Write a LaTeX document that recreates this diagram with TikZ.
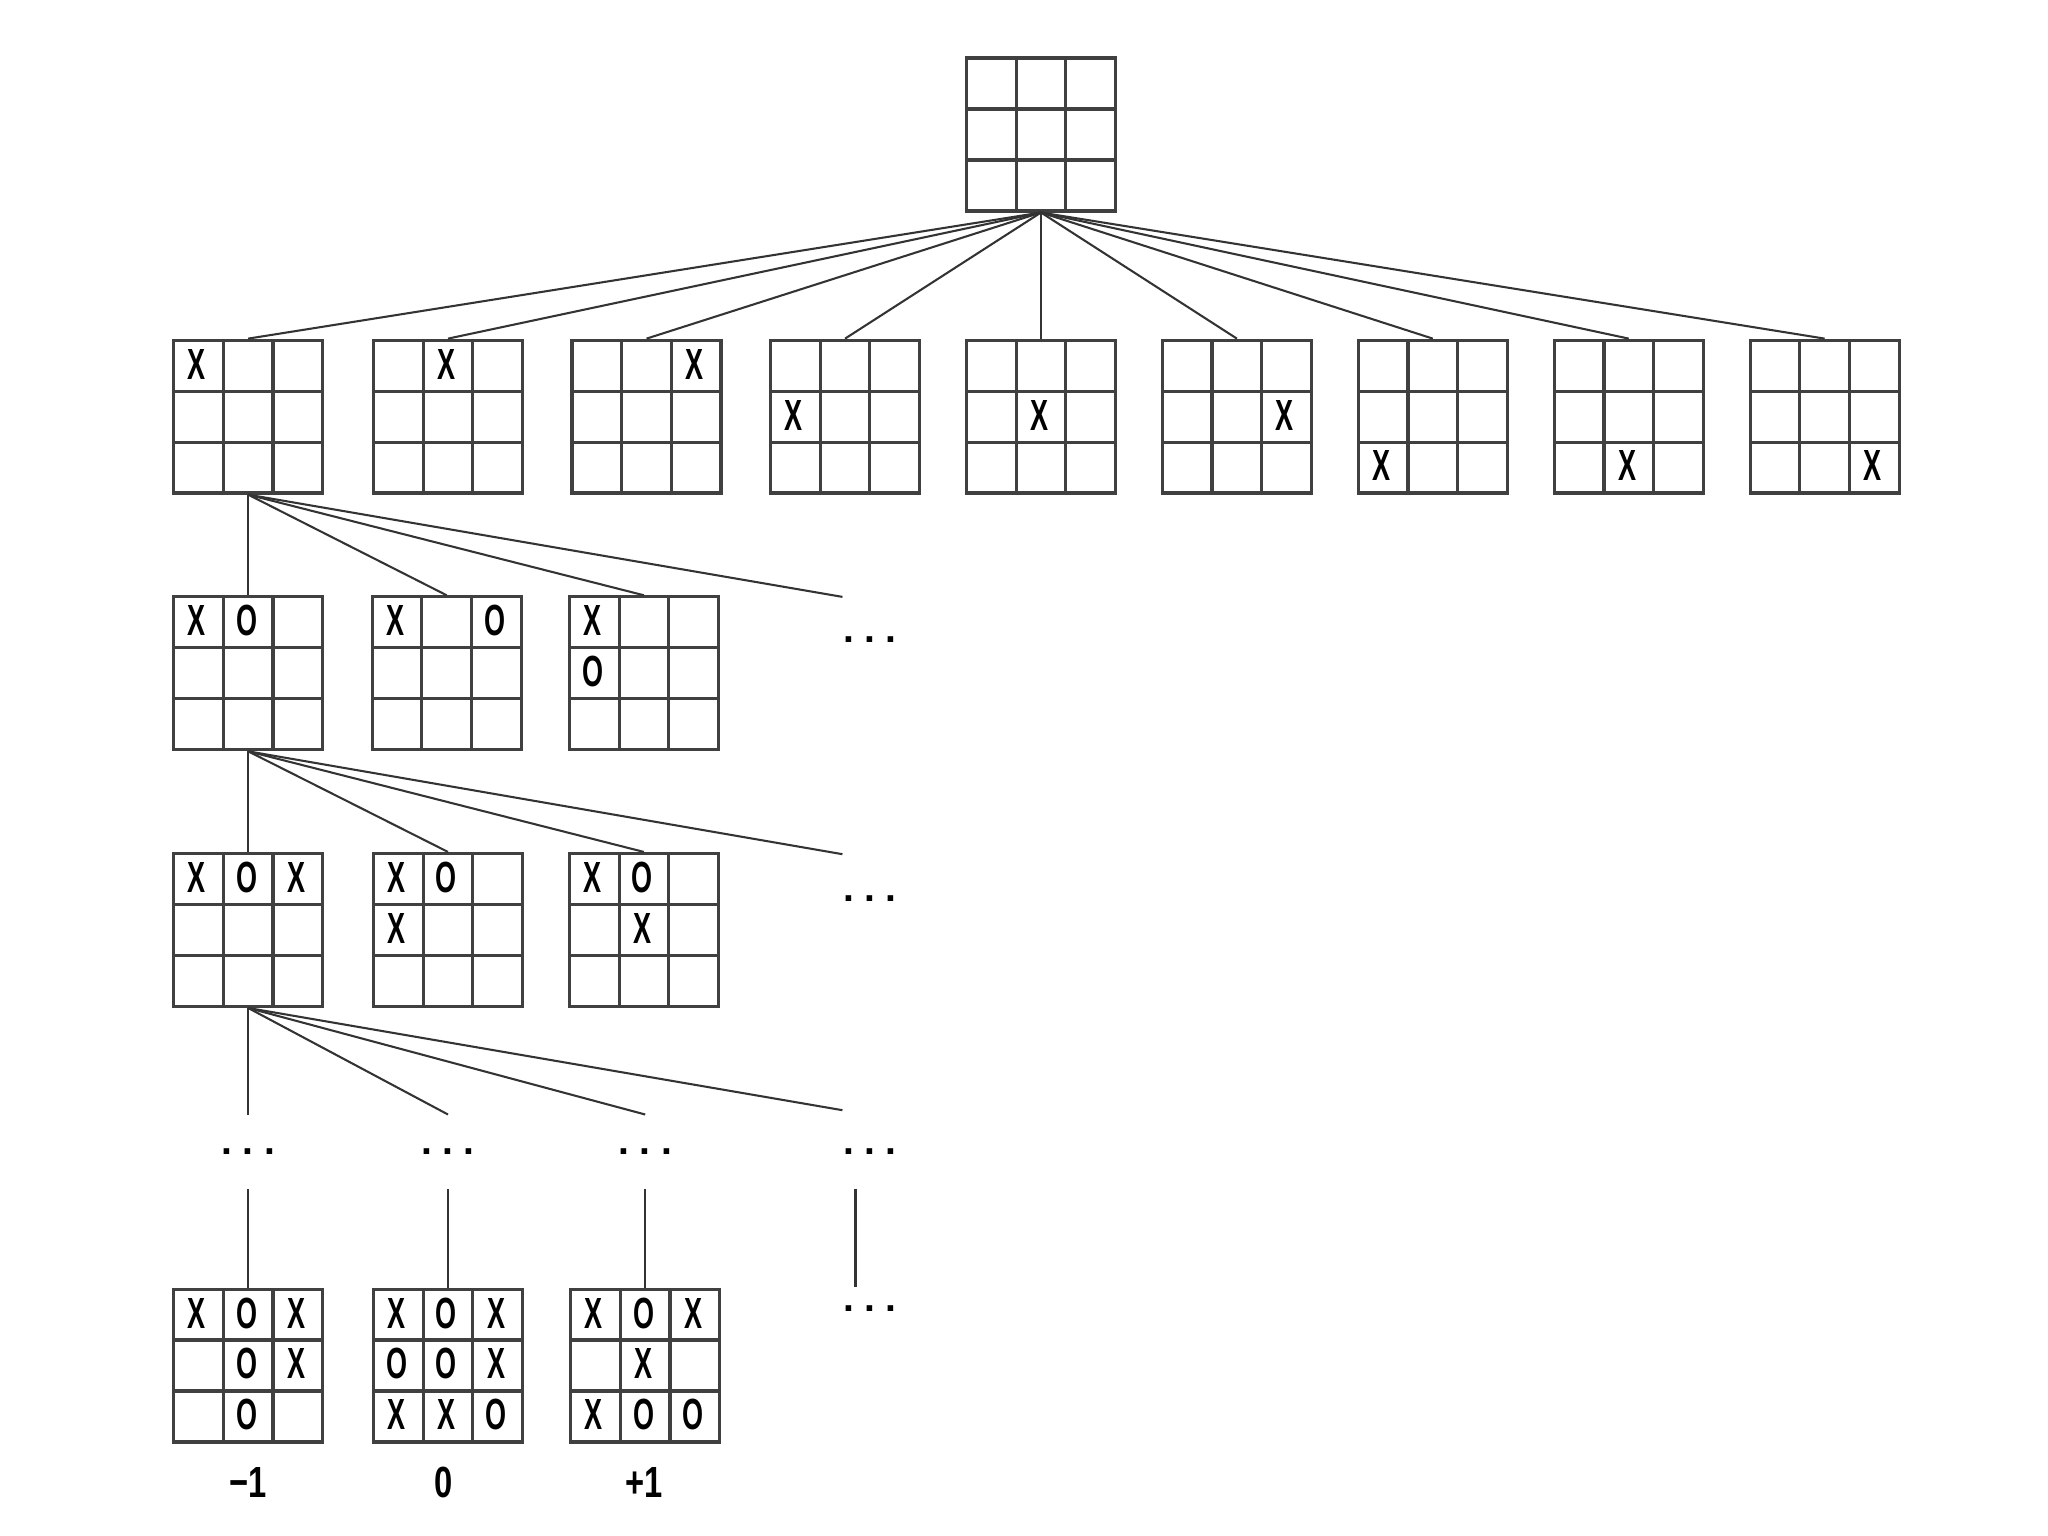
\documentclass[tikz,border=0pt]{standalone}
\usepackage{fontspec}
\setmainfont{Liberation Sans}
\usetikzlibrary{calc}
\newcommand\narrow[1]{\scalebox{0.62}[1]{#1}}
\newcommand\gap{.\kern0.08cm.\kern0.08cm.}
\tikzset{
  board/.style={draw=black!75,line width=0.7pt,minimum width=1.14cm,minimum height=1.17cm,inner sep=0pt,
    path picture={
      \foreach \k in {1,2} {
        \draw[black!75,line width=0.7pt]
          ($(path picture bounding box.north west)!\k/3!(path picture bounding box.north east)$) --
          ($(path picture bounding box.south west)!\k/3!(path picture bounding box.south east)$);
        \draw[black!75,line width=0.7pt]
          ($(path picture bounding box.north west)!\k/3!(path picture bounding box.south west)$) --
          ($(path picture bounding box.north east)!\k/3!(path picture bounding box.south east)$);
      }}},
  glyph/.style={inner sep=0pt,font=\fontsize{9.5}{11}\selectfont\bfseries},
  more/.style={inner sep=0pt,minimum height=0.56cm,font=\fontsize{8.5}{10}\selectfont\bfseries},
  score/.style={inner sep=0pt,font=\fontsize{9.5}{11}\selectfont\bfseries},
  link/.style={draw=black!80,line width=0.45pt},
}
% board: name, x, y, list of col/row/mark
\newcommand\board[4]{%
  \node[board] (#1) at (#2,#3) {};
  \foreach \c/\r/\m in {#4}
    \node[glyph] at ($(#1.north west)+({(\c-0.5)*0.38},{-(\r-0.5)*0.39})$) {\narrow{\m}};
}
\begin{document}
\begin{tikzpicture}
  \useasboundingbox (0,0) rectangle (15.68,-11.76);
  % empty board
  \node[board] (r) at (7.97,-1.03) {};
  % first move: X in each of the nine cells
  \foreach \x [count=\i from 1] in {1.90,3.43,4.95,6.47,7.97,9.47,10.97,12.47,13.97} {
    \pgfmathtruncatemacro\cc{mod(\i-1,3)+1}
    \pgfmathtruncatemacro\rr{div(\i-1,3)+1}
    \board{a\i}{\x}{-3.19}{\cc/\rr/X}
    \draw[link] (r.south) -- (a\i.north);
  }
  % second move
  \board{b1}{1.90}{-5.155}{1/1/X,2/1/O}
  \board{b2}{3.42}{-5.155}{1/1/X,3/1/O}
  \board{b3}{4.93}{-5.155}{1/1/X,1/2/O}
  \coordinate (b4) at (6.45,-4.57);
  \node[more] (bm) at (6.66,-4.90) {\gap};
  \foreach \j in {1,2,3} \draw[link] (a1.south) -- (b\j.north);
  \draw[link] (a1.south) -- (b4);
  % third move
  \board{c1}{1.90}{-7.12}{1/1/X,2/1/O,3/1/X}
  \board{c2}{3.43}{-7.12}{1/1/X,2/1/O,1/2/X}
  \board{c3}{4.93}{-7.12}{1/1/X,2/1/O,2/2/X}
  \coordinate (c4) at (6.45,-6.54);
  \node[more] (cm) at (6.66,-6.88) {\gap};
  \foreach \j in {1,2,3} \draw[link] (b1.south) -- (c\j.north);
  \draw[link] (b1.south) -- (c4);
  % deeper levels
  \node[more] (d1) at (1.90,-8.82) {\gap};
  \node[more] (d2) at (3.43,-8.82) {\gap};
  \node[more] (d3) at (4.94,-8.82) {\gap};
  \node[more] (dm) at (6.66,-8.82) {\gap};
  \coordinate (d4) at (6.45,-8.50);
  \foreach \j in {1,2,3} \draw[link] (c1.south) -- (d\j.north);
  \draw[link] (c1.south) -- (d4);
  % terminal states
  \board{e1}{1.90}{-10.455}{1/1/X,2/1/O,3/1/X,2/2/O,3/2/X,2/3/O}
  \board{e2}{3.43}{-10.455}{1/1/X,2/1/O,3/1/X,1/2/O,2/2/O,3/2/X,1/3/X,2/3/X,3/3/O}
  \board{e3}{4.94}{-10.455}{1/1/X,2/1/O,3/1/X,2/2/X,1/3/X,2/3/O,3/3/O}
  \foreach \j in {1,2,3} \draw[link] (d\j.south) -- (e\j.north);
  \coordinate (t4) at (6.55,-9.10);
  \coordinate (u4) at (6.55,-9.85);
  \draw[link] (t4) -- (u4);
  \node[more] (em) at (6.66,-10.02) {\gap};
  % utilities
  \node[score] (s1) at (1.90,-11.35) {\scalebox{0.75}[1]{−1}};
  \node[score] (s2) at (3.40,-11.35) {\scalebox{0.75}[1]{0}};
  \node[score] (s3) at (4.93,-11.35) {\scalebox{0.75}[1]{+1}};
\end{tikzpicture}
\end{document}
